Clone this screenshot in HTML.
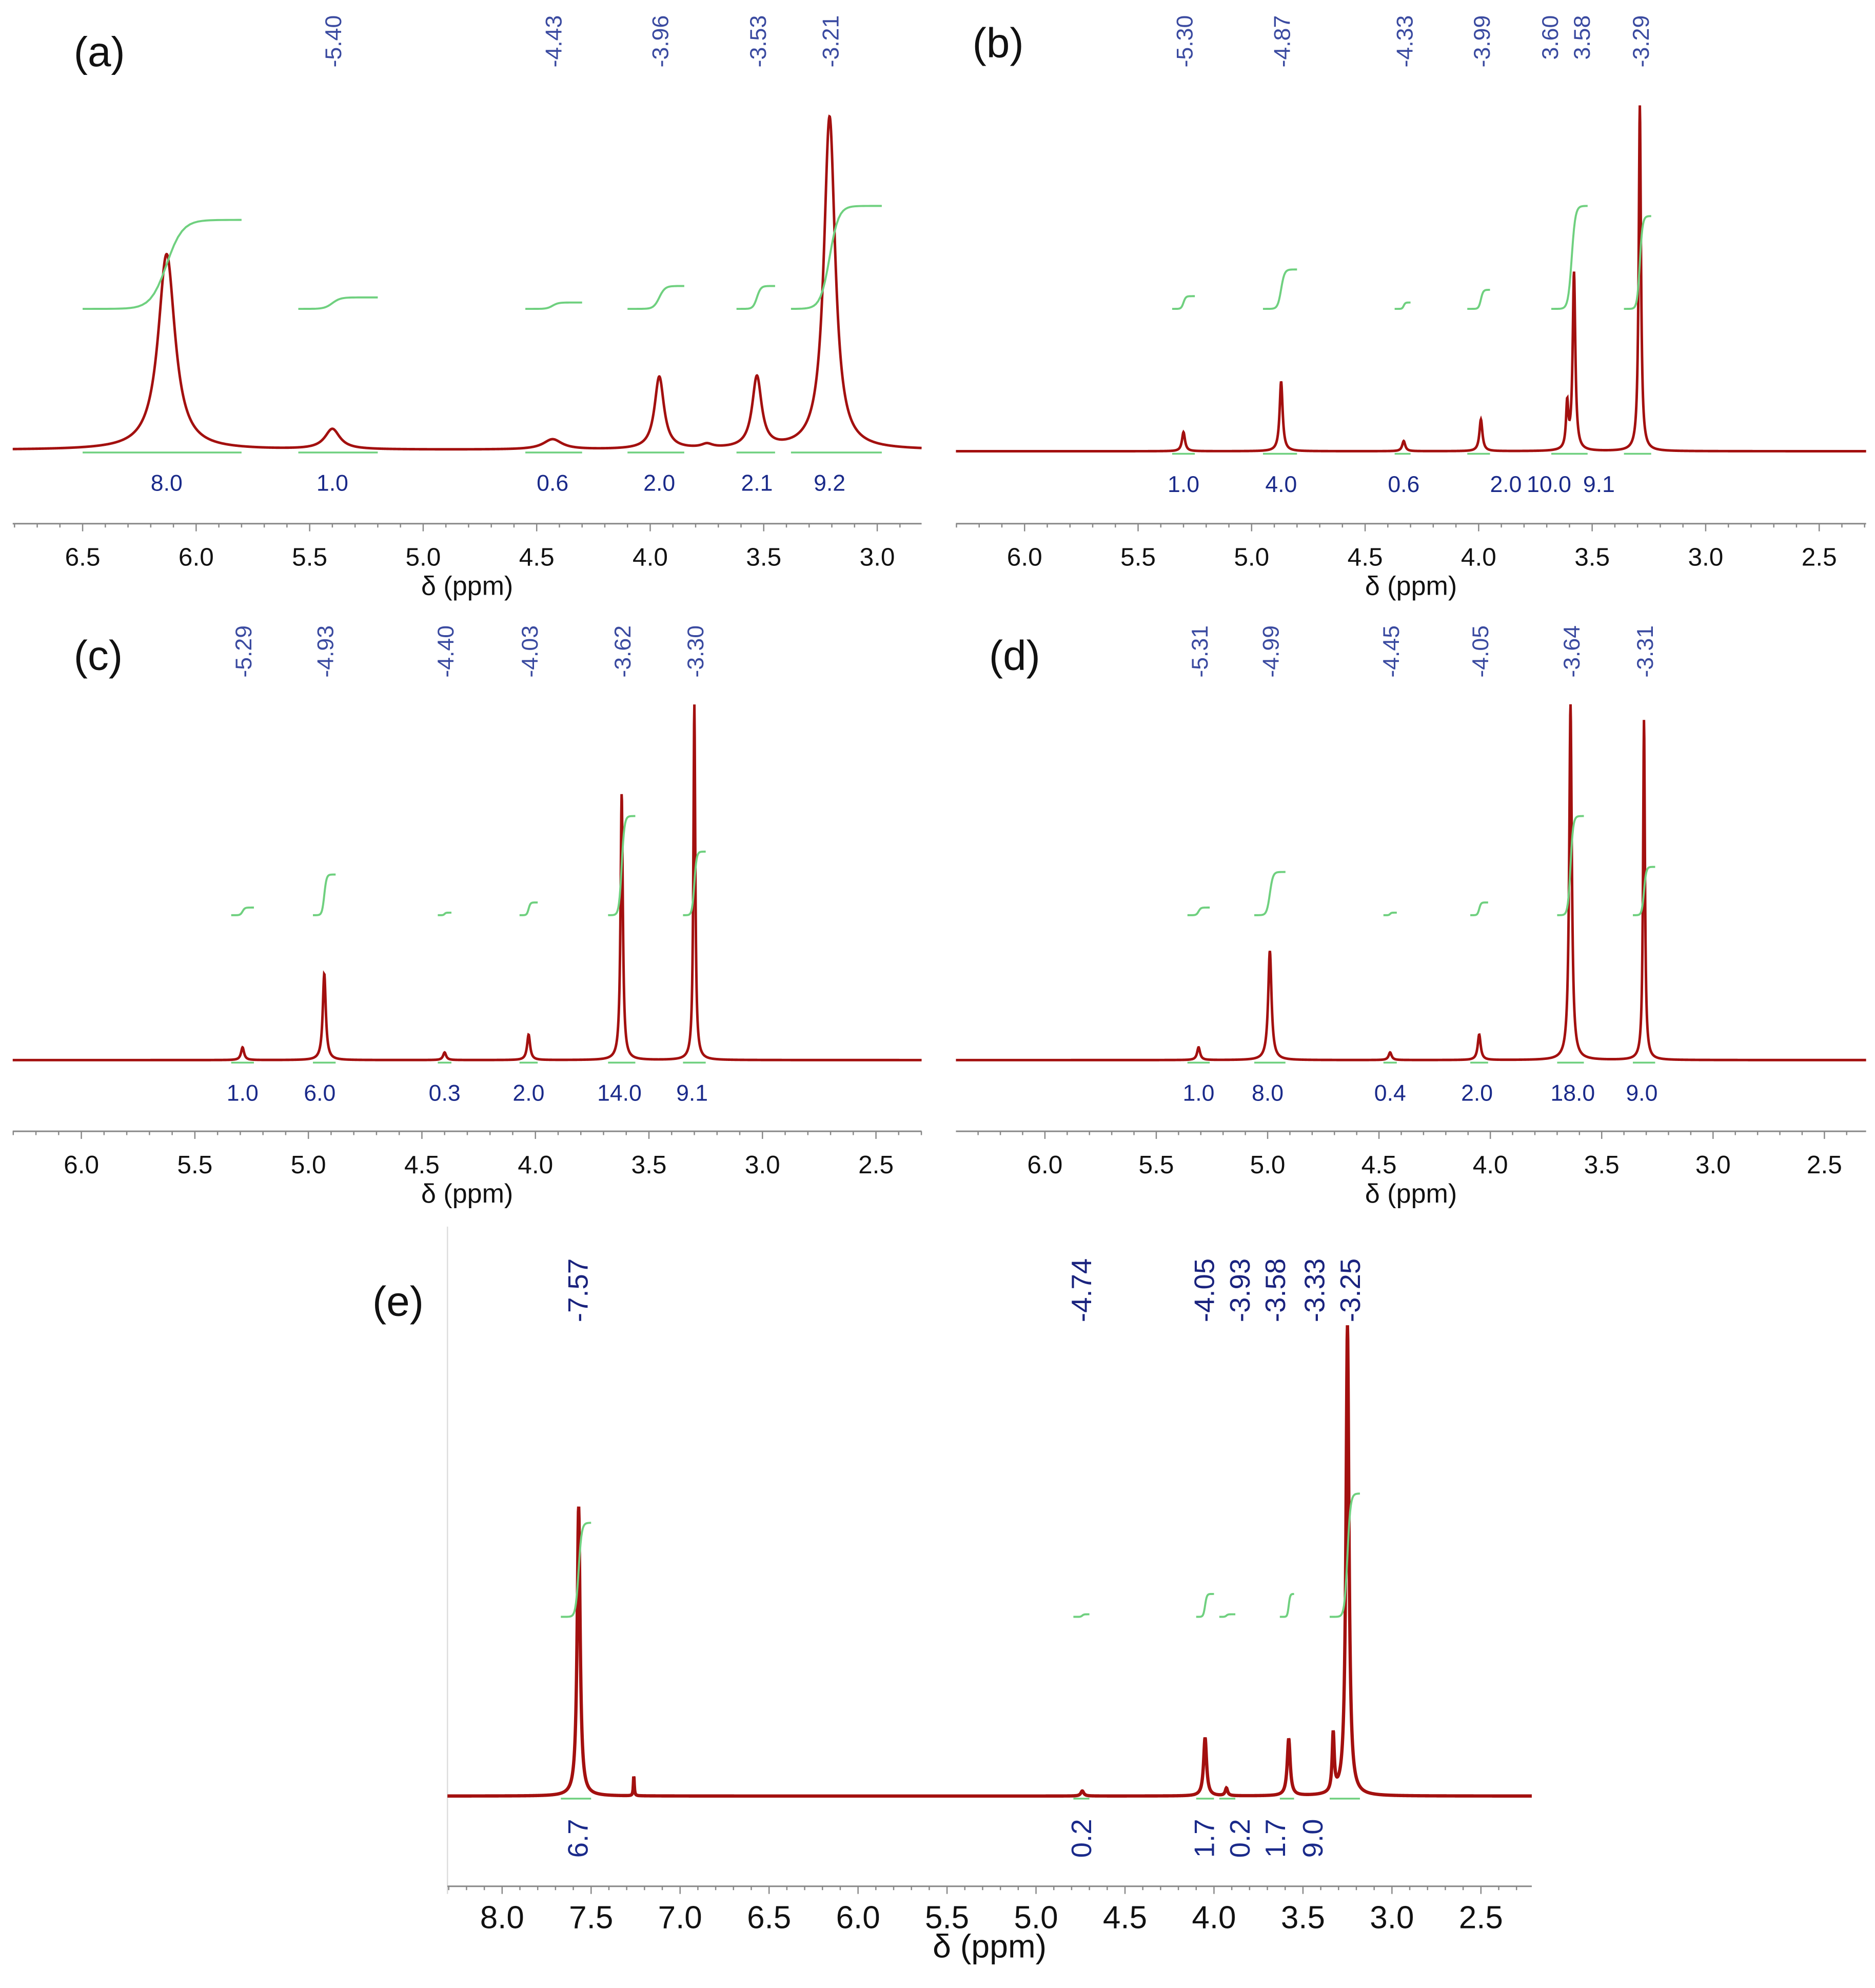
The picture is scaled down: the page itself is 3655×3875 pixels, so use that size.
<!DOCTYPE html>
<html><head><meta charset="utf-8"><style>
html,body{margin:0;padding:0;background:#fff}
svg{display:block}
text{font-family:"Liberation Sans",sans-serif}
</style></head><body>
<svg id="fig" width="3655" height="3875" viewBox="0 0 1475 1564" preserveAspectRatio="none" xmlns="http://www.w3.org/2000/svg">
<rect width="1475" height="1564" fill="#fff"/>
<line x1="352" y1="965" x2="352" y2="1490" stroke="#ddd" stroke-width="1"/>
</svg>
<script>
// ---- data ----
const aTicks=[6.5,6.0,5.5,5.0,4.5,4.0,3.5,3.0];
const aPeakPpm=[6.13,5.40,4.43,3.96,3.75,3.53,3.21];
const aPeakH=[154,16,8,57,3,56,262];
const aPeakW=[0.045,0.04,0.05,0.025,0.03,0.025,0.03];
const aLabelPpm=[5.40,4.43,3.96,3.53,3.21];
const aLabels=["5.40","4.43","3.96","3.53","3.21"];
const aIntStart=[6.5,5.55,4.55,4.1,3.62,3.38];
const aIntEnd=[5.8,5.2,4.3,3.85,3.45,2.98];
const aIntCenter=[6.13,5.40,4.43,3.96,3.53,3.21];
const aIntRise=[70,9,5,18,18,81];
const aIntVals=["8.0","1.0","0.6","2.0","2.1","9.2"];

const bTicks=[6.0,5.5,5.0,4.5,4.0,3.5,3.0,2.5];
const bPeakPpm=[5.30,4.87,4.33,3.99,3.61,3.58,3.29];
const bPeakH=[15,55,8,25,35,140,272];
const bPeakW=[0.008,0.008,0.008,0.008,0.006,0.007,0.006];
const bLabelPpm=[5.30,4.87,4.33,3.99,3.60,3.58,3.29];
const bLabels=["5.30","4.87","4.33","3.99","3.60","3.58","3.29"];
const bIntStart=[5.35,4.95,4.37,4.05,3.68,3.36];
const bIntEnd=[5.25,4.80,4.30,3.95,3.52,3.24];
const bIntCenter=[5.30,4.87,4.33,3.99,3.59,3.29];
const bIntRise=[10,31,5,15,81,73];
const bIntVals=["1.0","4.0","0.6","2.0","10.0","9.1"];
const bIntValPpm=[5.30,4.87,4.33,3.88,3.69,3.47];

const cTicks=[6.0,5.5,5.0,4.5,4.0,3.5,3.0,2.5];
const cPeakPpm=[5.29,4.93,4.40,4.03,3.62,3.30];
const cPeakH=[10,68,6,20,210,280];
const cPeakW=[0.008,0.008,0.008,0.008,0.006,0.005];
const cLabels=["5.29","4.93","4.40","4.03","3.62","3.30"];
const cIntStart=[5.34,4.98,4.43,4.07,3.68,3.35];
const cIntEnd=[5.24,4.88,4.37,3.99,3.56,3.25];
const cIntRise=[6,32,2,10,78,50];
const cIntVals=["1.0","6.0","0.3","2.0","14.0","9.1"];
const cIntValPpm=[5.29,4.95,4.40,4.03,3.63,3.31];

const dTicks=[6.0,5.5,5.0,4.5,4.0,3.5,3.0,2.5];
const dPeakPpm=[5.31,4.99,4.45,4.05,3.64,3.31];
const dPeakH=[10,86,6,20,280,268];
const dPeakW=[0.008,0.009,0.008,0.008,0.007,0.005];
const dLabels=["5.31","4.99","4.45","4.05","3.64","3.31"];
const dIntStart=[5.36,5.06,4.48,4.09,3.70,3.36];
const dIntEnd=[5.26,4.92,4.42,4.01,3.58,3.26];
const dIntRise=[6,34,2,10,78,38];
const dIntVals=["1.0","8.0","0.4","2.0","18.0","9.0"];
const dIntValPpm=[5.31,5.00,4.45,4.06,3.63,3.32];

const eTicks=[8.0,7.5,7.0,6.5,6.0,5.5,5.0,4.5,4.0,3.5,3.0,2.5];
const ePeakPpm=[7.57,7.26,4.74,4.05,3.93,3.58,3.33,3.25];
const ePeakH=[228,16,4,46,6,45,46,370];
const ePeakW=[0.01,0.003,0.01,0.01,0.008,0.01,0.007,0.01];
const eLabelPpm=[7.57,4.74,4.05,3.93,3.58,3.33,3.25];
const eLabels=["7.57","4.74","4.05","3.93","3.58","3.33","3.25"];
const eLabelX=[7.57,4.74,4.05,3.85,3.65,3.43,3.23];
const eIntStart=[7.67,4.79,4.10,3.97,3.63,3.35];
const eIntEnd=[7.50,4.70,4.00,3.88,3.55,3.18];
const eIntCenter=[7.57,4.74,4.05,3.93,3.58,3.25];
const eIntRise=[74,2,18,2,18,97];
const eIntVals=["6.7","0.2","1.7","0.2","1.7","9.0"];
const eIntValPpm=[7.57,4.74,4.05,3.85,3.65,3.44];

const NS="http://www.w3.org/2000/svg";
const svg=document.getElementById('fig');
function mk(tag,attrs,parent){const e=document.createElementNS(NS,tag);for(const k in attrs)e.setAttribute(k,attrs[k]);(parent||svg).appendChild(e);return e;}

function panel(P){
  const g=mk('g',{});
  
  
  const X=p=>P.x0+(P.p0-p)*P.scale;
  // axis
  const ax=mk('line',{x1:P.ax1,x2:P.ax2,y1:P.axY,y2:P.axY,stroke:'#888','stroke-width':1.2},g);
  
  
  for(let p=Math.ceil(P.pMin*10)/10;p<=P.pMax+1e-6;p+=0.1){
    const x=X(p); if(x<P.ax1||x>P.ax2)continue;
    const major=Math.abs(p*2-Math.round(p*2))<1e-6;
    mk('line',{x1:x,x2:x,y1:P.axY,y2:P.axY+(major?6:3),stroke:'#888','stroke-width':1},g);
  }
  P.ticks.forEach(t=>{
    const tx=mk('text',{x:X(t),y:P.axY+33,'font-size':P.tfs,'text-anchor':'middle',fill:'#111'},g);
    tx.textContent=t.toFixed(1);
    
    
  });
  const xl=mk('text',{x:(P.ax1+P.ax2)/2,y:P.axY+56,'font-size':P.tfs+1,'text-anchor':'middle',fill:'#111'},g);
  xl.textContent='δ (ppm)';
  
  
  // spectrum
  let d='';
  for(let x=P.ax1;x<=P.ax2;x+=0.25){
    const p=P.p0-(x-P.x0)/P.scale;
    let y=0;
    P.pp.forEach((c,i)=>{const w=P.pw[i];y+=P.ph[i]*w*w/((p-c)*(p-c)+w*w);});
    d+=(d?'L':'M')+x.toFixed(2)+','+(P.base-y).toFixed(2);
  }
  const sp=mk('path',{d:d,fill:'none',stroke:'#a3100f','stroke-width':P.sw},g);
  
  
  // integrals
  P.is.forEach((s,i)=>{
    const e=P.ie[i],c=P.ic[i],r=P.ir[i];
    let dd='';
    const k=(s-e)/6;
    for(let j=0;j<=40;j++){
      const p=s-(s-e)*j/40;
      const f=0.5*(1+Math.tanh((c-p)/Math.max(k*0.6,0.004)));
      dd+=(dd?'L':'M')+X(p).toFixed(2)+','+(P.ib-r*f).toFixed(2);
    }
    const ip=mk('path',{d:dd,fill:'none',stroke:'#6fd07f','stroke-width':1.6},g);
    
    
    const br=mk('line',{x1:X(s),x2:X(e),y1:P.base+2,y2:P.base+2,stroke:'#6fd07f','stroke-width':1.4},g);
    
    
    const vx=X(P.ivp[i]);
    let t;
    if(P.rot){
      t=mk('text',{x:0,y:0,'font-size':P.lfs,'text-anchor':'end',fill:'#1a2a8a',transform:`translate(${vx+7},${P.base+18}) rotate(-90)`},g);
    } else {
      t=mk('text',{x:vx,y:P.base+32,'font-size':P.lfs,'text-anchor':'middle',fill:'#1a2a8a'},g);
    }
    t.textContent=P.iv[i];
    
    
  });
  // peak labels
  P.lp.forEach((p,i)=>{
    const x=X(P.lx[i]);
    const t=mk('text',{x:0,y:0,'font-size':P.pfs,'text-anchor':'end',fill:P.pcol,transform:`translate(${x+7},${P.ly}) rotate(-90)`},g);
    t.textContent=(i>0&&P.id==='b'&&i>=4&&i<=5?'':'-')+P.lab[i];
    
    
  });
  const pl=mk('text',{x:P.plx,y:P.ply,'font-size':33,fill:'#111'},g);
  pl.textContent='('+P.id+')';
  
  
}

panel({id:'a',x0:65,p0:6.5,scale:178.6,ax1:10,ax2:725,pMin:2.8,pMax:6.8,axY:412,base:354,ticks:aTicks,tfs:20,
 pp:aPeakPpm,ph:aPeakH,pw:aPeakW,sw:2,is:aIntStart,ie:aIntEnd,ic:aIntCenter,ir:aIntRise,ib:243,iv:aIntVals,ivp:aIntCenter,lfs:18,
 lp:aLabelPpm,lx:aLabelPpm,lab:aLabels,ly:12,pfs:18,pcol:'#3a4aa0',plx:58,ply:52});
panel({id:'b',x0:806,p0:6.0,scale:178.6,ax1:752,ax2:1468,pMin:2.3,pMax:6.3,axY:412,base:355,ticks:bTicks,tfs:20,
 pp:bPeakPpm,ph:bPeakH,pw:bPeakW,sw:2,is:bIntStart,ie:bIntEnd,ic:bIntCenter,ir:bIntRise,ib:243,iv:bIntVals,ivp:bIntValPpm,lfs:18,
 lp:bLabelPpm,lx:[5.30,4.87,4.33,3.99,3.69,3.55,3.29],lab:bLabels,ly:12,pfs:18,pcol:'#3a4aa0',plx:765,ply:45});
panel({id:'c',x0:64,p0:6.0,scale:178.6,ax1:10,ax2:725,pMin:2.3,pMax:6.3,axY:890,base:834,ticks:cTicks,tfs:20,
 pp:cPeakPpm,ph:cPeakH,pw:cPeakW,sw:2,is:cIntStart,ie:cIntEnd,ic:cPeakPpm,ir:cIntRise,ib:720,iv:cIntVals,ivp:cIntValPpm,lfs:18,
 lp:cPeakPpm,lx:cPeakPpm,lab:cLabels,ly:492,pfs:18,pcol:'#3a4aa0',plx:58,ply:527});
panel({id:'d',x0:822,p0:6.0,scale:175.2,ax1:752,ax2:1468,pMin:2.3,pMax:6.4,axY:890,base:834,ticks:dTicks,tfs:20,
 pp:dPeakPpm,ph:dPeakH,pw:dPeakW,sw:2,is:dIntStart,ie:dIntEnd,ic:dPeakPpm,ir:dIntRise,ib:720,iv:dIntVals,ivp:dIntValPpm,lfs:18,
 lp:dPeakPpm,lx:dPeakPpm,lab:dLabels,ly:492,pfs:18,pcol:'#3a4aa0',plx:778,ply:527});
panel({id:'e',x0:395,p0:8.0,scale:140,ax1:352,ax2:1205,pMin:2.2,pMax:8.3,axY:1484,base:1413,ticks:eTicks,tfs:25,
 pp:ePeakPpm,ph:ePeakH,pw:ePeakW,sw:2.6,is:eIntStart,ie:eIntEnd,ic:eIntCenter,ir:eIntRise,ib:1272,iv:eIntVals,ivp:eIntValPpm,lfs:22,rot:true,
 lp:eLabelPpm,lx:eLabelX,lab:eLabels,ly:990,pfs:22,pcol:'#1a237e',plx:293,ply:1035});
</script>
</body></html>
